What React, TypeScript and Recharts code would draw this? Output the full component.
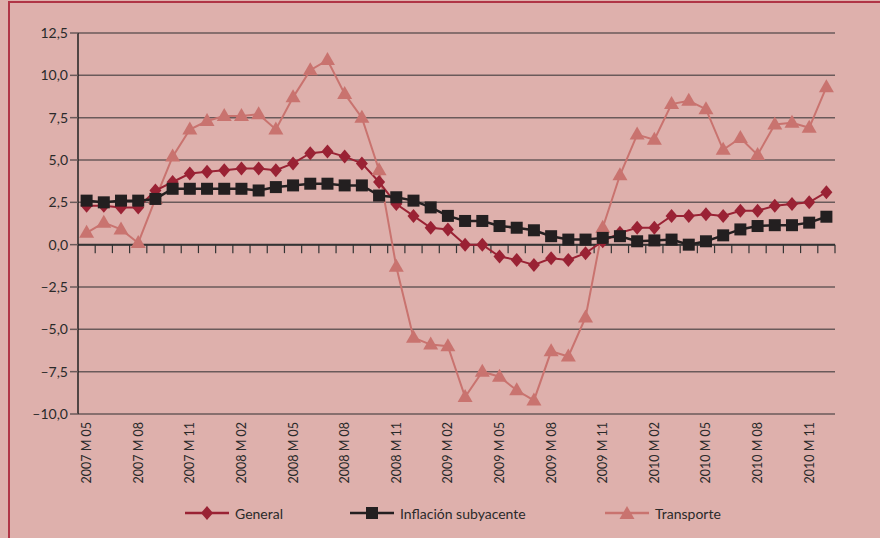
import React from 'react';
import { LineChart, Line, XAxis, YAxis, CartesianGrid, ReferenceLine } from 'recharts';

const categories = [
  '2007 M 05','2007 M 06','2007 M 07','2007 M 08','2007 M 09','2007 M 10','2007 M 11','2007 M 12',
  '2008 M 01','2008 M 02','2008 M 03','2008 M 04','2008 M 05','2008 M 06','2008 M 07','2008 M 08',
  '2008 M 09','2008 M 10','2008 M 11','2008 M 12',
  '2009 M 01','2009 M 02','2009 M 03','2009 M 04','2009 M 05','2009 M 06','2009 M 07','2009 M 08',
  '2009 M 09','2009 M 10','2009 M 11','2009 M 12',
  '2010 M 01','2010 M 02','2010 M 03','2010 M 04','2010 M 05','2010 M 06','2010 M 07','2010 M 08',
  '2010 M 09','2010 M 10','2010 M 11','2010 M 12',
];

const general = [
  2.3, 2.3, 2.2, 2.2, 3.2, 3.7, 4.2, 4.3, 4.4, 4.5, 4.5, 4.4, 4.8, 5.4, 5.5, 5.2, 4.8, 3.7, 2.4, 1.7,
  1.0, 0.9, 0.0, 0.0, -0.7, -0.9, -1.2, -0.8, -0.9, -0.5, 0.2, 0.7,
  1.0, 1.0, 1.7, 1.7, 1.8, 1.7, 2.0, 2.0, 2.3, 2.4, 2.5, 3.1,
];

const subyacente = [
  2.6, 2.5, 2.6, 2.6, 2.7, 3.3, 3.3, 3.3, 3.3, 3.3, 3.2, 3.4, 3.5, 3.6, 3.6, 3.5, 3.5, 2.9, 2.8, 2.6,
  2.2, 1.7, 1.4, 1.4, 1.1, 1.0, 0.85, 0.5, 0.3, 0.3, 0.4, 0.5,
  0.2, 0.25, 0.3, 0.0, 0.2, 0.55, 0.9, 1.1, 1.15, 1.15, 1.3, 1.65,
];

const transporte = [
  0.7, 1.3, 0.9, 0.1, 2.7, 5.2, 6.8, 7.3, 7.6, 7.6, 7.7, 6.8, 8.7, 10.3, 10.9, 8.9, 7.5, 4.4, -1.3, -5.5,
  -5.9, -6.0, -9.0, -7.5, -7.8, -8.6, -9.2, -6.3, -6.6, -4.3, 1.0, 4.1,
  6.5, 6.2, 8.3, 8.5, 8.0, 5.6, 6.3, 5.3, 7.1, 7.2, 6.9, 9.3,
];

const yTicks = [-10, -7.5, -5, -2.5, 0, 2.5, 5, 7.5, 10, 12.5];
const xTickIdx = [0, 3, 6, 9, 12, 15, 18, 21, 24, 27, 30, 33, 36, 39, 42];
const boundaries = Array.from({ length: categories.length }, (_, i) => i + 0.5);

const data = categories.map((c, i) => ({
  idx: i,
  cat: c,
  general: general[i],
  subyacente: subyacente[i],
  transporte: transporte[i],
}));

const BG = '#deb0ac';
const C_GEN = '#9a2234';
const C_SUB = '#231f20';
const C_TRA = '#c9736f';
const GRID = '#6a5a5a';
const FONT = 'Lato, "Open Sans", sans-serif';

const fmt = (v: number) => (v < 0 ? '–' : '') + Math.abs(v).toFixed(1).replace('.', ',');

const Diamond = ({ cx, cy, color }: any) =>
  cx == null || cy == null ? null : (
    <path d={`M${cx},${cy - 7} L${cx + 6},${cy} L${cx},${cy + 7} L${cx - 6},${cy} Z`} fill={color} />
  );
const Square = ({ cx, cy, color }: any) =>
  cx == null || cy == null ? null : <rect x={cx - 6} y={cy - 6} width={12} height={12} fill={color} />;
const Triangle = ({ cx, cy, color }: any) =>
  cx == null || cy == null ? null : (
    <path d={`M${cx},${cy - 8} L${cx + 7.5},${cy + 5} L${cx - 7.5},${cy + 5} Z`} fill={color} />
  );

const XTick = (props: any) => {
  const { x, y, payload } = props;
  return (
    <text
      x={x}
      y={y}
      transform={`rotate(-90 ${x} ${y})`}
      textAnchor="end"
      dominantBaseline="central"
      fontSize={12.5}
      fontFamily={FONT}
      fill="#2a2a2a"
    >
      {categories[payload.value]}
    </text>
  );
};

const legendItems = [
  { name: 'General', color: C_GEN, kind: 'diamond', left: 185 },
  { name: 'Inflación subyacente', color: C_SUB, kind: 'square', left: 350 },
  { name: 'Transporte', color: C_TRA, kind: 'triangle', left: 605 },
];

export default function App() {
  return (
    <div style={{ position: 'fixed', left: 0, top: 0, width: 880, height: 538, background: BG, overflow: 'hidden' }}>
      <div
        style={{
          position: 'absolute',
          left: 8,
          top: 1,
          width: 900,
          height: 600,
          borderLeft: '2px solid #b03546',
          borderTop: '2px solid #b03546',
        }}
      />
      <div style={{ position: 'absolute', left: 0, top: 0 }}>
        <LineChart width={880} height={538} data={data} margin={{ top: 33, right: 45, bottom: 64, left: 0 }}>
          <CartesianGrid horizontal vertical={false} stroke={GRID} strokeWidth={1.5} />
          <XAxis
            type="number"
            dataKey="idx"
            domain={[-0.5, 43.5]}
            ticks={xTickIdx}
            interval={0}
            axisLine={false}
            tickLine={false}
            tick={<XTick />}
            height={60}
          />
          <YAxis
            type="number"
            domain={[-10, 12.5]}
            ticks={yTicks}
            interval={0}
            width={78}
            tickFormatter={fmt}
            axisLine={{ stroke: '#222', strokeWidth: 1.5 }}
            tickLine={{ stroke: GRID, strokeWidth: 1.5 }}
            tickSize={8}
            tick={{ fontSize: 14, fill: '#2a2a2a', fontFamily: FONT }}
          />
          <ReferenceLine y={0} stroke="#333" strokeWidth={2} ifOverflow="visible" />
          {boundaries.map((b) => (
            <ReferenceLine
              key={b}
              segment={[{ x: b, y: 0 }, { x: b, y: -0.5 }]}
              stroke="#333"
              strokeWidth={1.2}
              ifOverflow="visible"
            />
          ))}
          <Line
            dataKey="transporte"
            stroke={C_TRA}
            strokeWidth={2}
            isAnimationActive={false}
            dot={(p: any) => <Triangle key={`t${p.index}`} cx={p.cx} cy={p.cy} color={C_TRA} />}
            activeDot={false}
          />
          <Line
            dataKey="general"
            stroke={C_GEN}
            strokeWidth={2}
            isAnimationActive={false}
            dot={(p: any) => <Diamond key={`g${p.index}`} cx={p.cx} cy={p.cy} color={C_GEN} />}
            activeDot={false}
          />
          <Line
            dataKey="subyacente"
            stroke={C_SUB}
            strokeWidth={2.5}
            isAnimationActive={false}
            dot={(p: any) => <Square key={`s${p.index}`} cx={p.cx} cy={p.cy} color={C_SUB} />}
            activeDot={false}
          />
        </LineChart>
      </div>
      {legendItems.map((it) => (
        <div
          key={it.name}
          style={{
            position: 'absolute',
            left: it.left,
            top: 504,
            height: 18,
            display: 'flex',
            alignItems: 'center',
            fontFamily: FONT,
            fontSize: 14,
            color: '#2a2a2a',
            whiteSpace: 'nowrap',
          }}
        >
          <svg width={44} height={18} style={{ marginRight: 6 }}>
            <line x1={0} y1={9} x2={44} y2={9} stroke={it.color} strokeWidth={2.5} />
            {it.kind === 'diamond' && <Diamond cx={22} cy={9} color={it.color} />}
            {it.kind === 'square' && <Square cx={22} cy={9} color={it.color} />}
            {it.kind === 'triangle' && <Triangle cx={22} cy={10} color={it.color} />}
          </svg>
          <span>{it.name}</span>
        </div>
      ))}
    </div>
  );
}
